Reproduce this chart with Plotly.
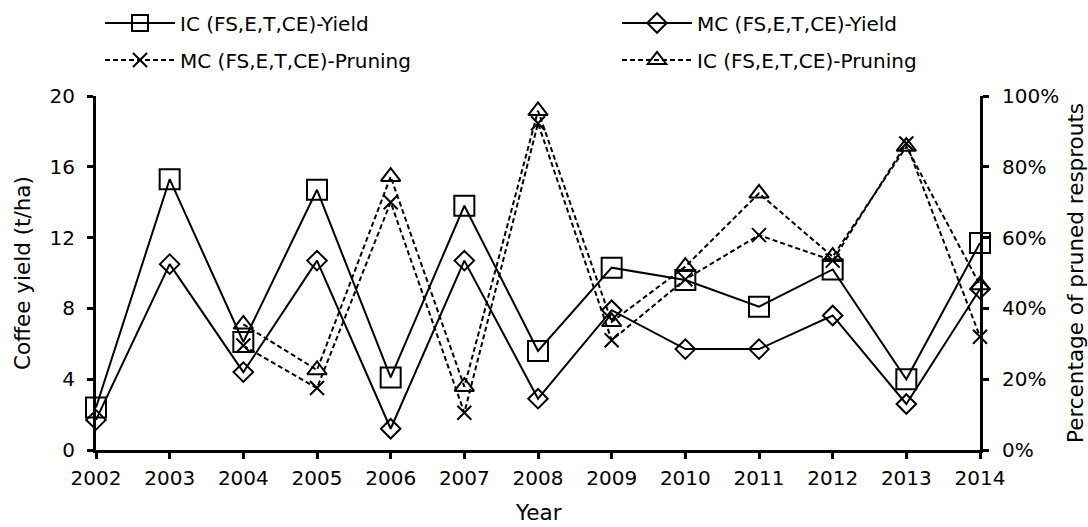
import plotly.graph_objects as go

years = [2002, 2003, 2004, 2005, 2006, 2007, 2008, 2009, 2010, 2011, 2012, 2013, 2014]
ic_yield = [2.4, 15.3, 6.1, 14.7, 4.1, 13.8, 5.6, 10.3, 9.6, 8.1, 10.2, 4.0, 11.7]
mc_yield = [1.7, 10.5, 4.4, 10.7, 1.2, 10.7, 2.9, 7.9, 5.7, 5.7, 7.6, 2.6, 9.1]
mc_pruning = [None, None, 29.5, 17.5, 70.0, 10.5, 92.3, 31.0, 48.2, 60.7, 53.5, 86.6, 32.0]
ic_pruning = [None, None, 35.5, 22.6, 77.2, 17.9, 95.8, 36.2, 51.8, 72.5, 54.6, 85.7, 46.6]

FONT = "DejaVu Sans"
TICK_FS = 20
TITLE_FS = 21.5
BLACK = "#000000"

fig = go.Figure()

fig.add_trace(go.Scatter(
    x=years, y=ic_yield, name="IC (FS,E,T,CE)-Yield", mode="lines+markers",
    line=dict(color=BLACK, width=2),
    marker=dict(symbol="square-open", size=20, color=BLACK, line=dict(width=2, color=BLACK)),
    cliponaxis=False, legend="legend"))
fig.add_trace(go.Scatter(
    x=years, y=mc_yield, name="MC (FS,E,T,CE)-Yield", mode="lines+markers",
    line=dict(color=BLACK, width=2),
    marker=dict(symbol="diamond-open", size=15, color=BLACK, line=dict(width=2, color=BLACK)),
    cliponaxis=False, legend="legend2"))
fig.add_trace(go.Scatter(
    x=years, y=[None if v is None else v / 100 for v in mc_pruning],
    name="MC (FS,E,T,CE)-Pruning", mode="lines+markers", yaxis="y2",
    line=dict(color=BLACK, width=2, dash="5px,3px"),
    marker=dict(symbol="x-thin-open", size=14, color=BLACK, line=dict(width=2, color=BLACK)),
    cliponaxis=False, legend="legend3"))
fig.add_trace(go.Scatter(
    x=years, y=[None if v is None else v / 100 for v in ic_pruning],
    name="IC (FS,E,T,CE)-Pruning", mode="lines+markers", yaxis="y2",
    line=dict(color=BLACK, width=2, dash="5px,3px"),
    marker=dict(symbol="triangle-up-open", size=17, color=BLACK, line=dict(width=2, color=BLACK)),
    cliponaxis=False, legend="legend4"))

axis_common = dict(
    showline=True, linewidth=3, linecolor=BLACK, showgrid=False, zeroline=False,
    ticks="outside", ticklen=6, tickwidth=3, tickcolor=BLACK, automargin=False,
    tickfont=dict(family=FONT, size=TICK_FS, color=BLACK),
)


def legend_at(x_px, y_px):
    return dict(
        orientation="h", xref="container", x=x_px / 1088, xanchor="left",
        yref="container", y=1 - y_px / 527, yanchor="middle",
        itemwidth=70,
        font=dict(family=FONT, size=TICK_FS, color=BLACK), bgcolor="rgba(0,0,0,0)",
    )


fig.update_layout(
    width=1088, height=527,
    margin=dict(l=96, r=108, t=96, b=77, autoexpand=False),
    paper_bgcolor="white", plot_bgcolor="white",
    font=dict(family=FONT, size=TICK_FS, color=BLACK),
    xaxis=dict(range=[2002, 2014], tickmode="array", tickvals=years,
               ticktext=[str(y) for y in years], ticklabelstandoff=2,
               **axis_common),
    yaxis=dict(range=[0, 20], tickmode="array", tickvals=[0, 4, 8, 12, 16, 20],
               ticklabelstandoff=8,
               **axis_common),
    yaxis2=dict(range=[0, 1], overlaying="y", side="right", tickmode="array",
                tickvals=[0, 0.2, 0.4, 0.6, 0.8, 1.0], tickformat=".0%",
                ticklabelstandoff=9,
                **axis_common),
    legend=legend_at(100, 23),
    legend2=legend_at(617, 23),
    legend3=legend_at(100, 60),
    legend4=legend_at(617, 60),
    showlegend=True,
    annotations=[
        dict(text="Year", xref="paper", yref="paper", x=0.5, y=0, yshift=-62,
             xanchor="center", yanchor="middle", showarrow=False,
             font=dict(family=FONT, size=TITLE_FS, color=BLACK)),
        dict(text="Coffee yield (t/ha)", xref="paper", yref="paper", x=0, xshift=-74, y=0.5,
             xanchor="center", yanchor="middle", textangle=-90, showarrow=False,
             font=dict(family=FONT, size=TITLE_FS, color=BLACK)),
        dict(text="Percentage of pruned resprouts", xref="paper", yref="paper", x=1, xshift=95, y=0.5,
             xanchor="center", yanchor="middle", textangle=-90, showarrow=False,
             font=dict(family=FONT, size=TITLE_FS, color=BLACK)),
    ],
)

fig.write_html(
    "out.html",
    config={"displayModeBar": False},
    post_script="document.body.style.margin='0';document.body.style.overflow='hidden';",
)
